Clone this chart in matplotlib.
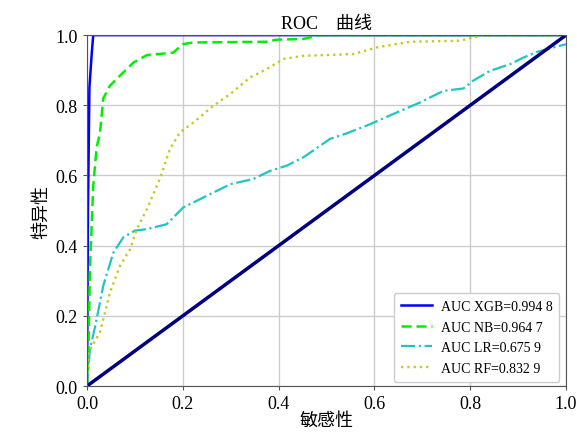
import numpy as np
import matplotlib
matplotlib.use("Agg")
import matplotlib.pyplot as plt

plt.rcParams['font.family'] = ['Liberation Serif', 'Noto Sans CJK SC']

# courbes ROC (fpr, tpr)
xgb_fpr = [0.0, 0.002, 0.005, 0.010, 0.013, 1.0]
xgb_tpr = [0.0, 0.50, 0.85, 0.95, 1.0, 1.0]

nb_fpr = [0.0, 0.003, 0.006, 0.013, 0.020, 0.027, 0.034, 0.048, 0.076, 0.097,
          0.125, 0.180, 0.200, 0.222, 0.375, 0.396, 0.452, 0.486, 1.0]
nb_tpr = [0.0, 0.10, 0.33, 0.57, 0.68, 0.72, 0.82, 0.856, 0.894, 0.922,
          0.943, 0.950, 0.974, 0.979, 0.981, 0.987, 0.989, 1.0, 1.0]

lr_fpr = [0.0, 0.006, 0.017, 0.034, 0.055, 0.076, 0.100, 0.125, 0.166, 0.201,
          0.250, 0.299, 0.347, 0.382, 0.417, 0.452, 0.507, 0.542, 0.591, 0.639,
          0.695, 0.744, 0.786, 0.806, 0.841, 0.883, 0.911, 0.939, 0.974, 1.0]
lr_tpr = [0.0, 0.105, 0.17, 0.286, 0.38, 0.424, 0.443, 0.447, 0.461, 0.509,
          0.542, 0.575, 0.59, 0.613, 0.628, 0.652, 0.704, 0.72, 0.746, 0.775,
          0.808, 0.841, 0.848, 0.87, 0.898, 0.917, 0.936, 0.952, 0.965, 0.974]

rf_fpr = [0.0, 0.003, 0.027, 0.048, 0.069, 0.090, 0.104, 0.125, 0.152, 0.173,
          0.194, 0.222, 0.264, 0.299, 0.340, 0.375, 0.410, 0.452, 0.556, 0.605,
          0.674, 0.779, 0.806, 0.834, 1.0]
rf_tpr = [0.0, 0.096, 0.153, 0.267, 0.343, 0.39, 0.447, 0.504, 0.59, 0.675,
          0.723, 0.751, 0.799, 0.832, 0.879, 0.903, 0.932, 0.941, 0.946, 0.965,
          0.981, 0.984, 0.993, 1.0, 1.0]

labels = ['AUC XGB=0.994 8', 'AUC NB=0.964 7', 'AUC LR=0.675 9', 'AUC RF=0.832 9']
ticks = [0.0, 0.2, 0.4, 0.6, 0.8, 1.0]

fig = plt.figure(figsize=(5.77, 4.35), dpi=100)
ax = fig.add_axes([0.1508, 0.1103, 0.8302, 0.8067])

ax.plot(xgb_fpr, xgb_tpr, color='#0000ff', lw=1.8, label=labels[0])
ax.plot(nb_fpr, nb_tpr, color='#00ee00', lw=1.8, ls=(0, (4, 2)), label=labels[1])
ax.plot(lr_fpr, lr_tpr, color='#20c4c4', lw=1.6, ls='-.', label=labels[2])
ax.plot(rf_fpr, rf_tpr, color='#c8c820', lw=1.7, ls=':', label=labels[3])
ax.plot([0, 1], [0, 1], color='navy', lw=2.5)

ax.set_xlim(0, 1)
ax.set_ylim(0, 1)
ax.set_xticks(ticks)
ax.set_yticks(ticks)
ax.tick_params(labelsize=13, length=3, color='#555555')
ax.grid(True, color='#cccccc', lw=1)
for s in ax.spines.values():
    s.set_color('#555555')

ax.set_title('ROC　曲线', fontsize=13, pad=5)
ax.set_xlabel('敏感性', fontsize=13, labelpad=0)
ax.set_ylabel('特异性', fontsize=13, labelpad=4)
ax.legend(loc='lower right', fontsize=10, handlelength=2.3, handletextpad=0.6,
          borderpad=0.5, labelspacing=0.55, framealpha=1, borderaxespad=0.3,
          bbox_to_anchor=(0.995, 0.0))

plt.savefig('out.png', dpi=100)
